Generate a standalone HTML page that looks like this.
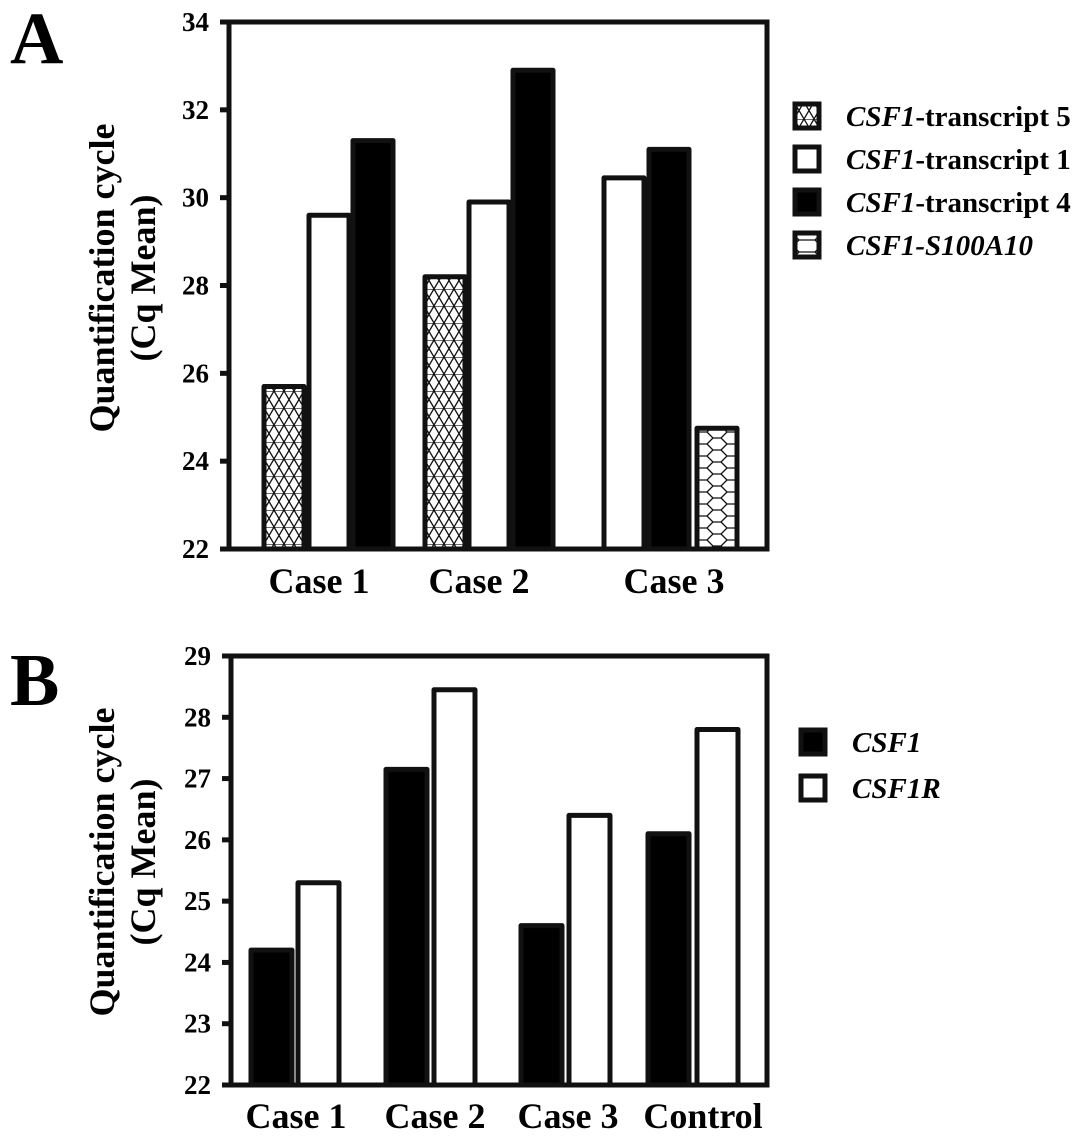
<!DOCTYPE html>
<html><head><meta charset="utf-8"><style>
body{margin:0;background:#fff;}
svg{display:block;font-family:"Liberation Serif",serif;font-weight:bold;}
</style></head><body>
<svg id="chart" width="1087" height="1141" viewBox="0 0 1087 1141" xmlns="http://www.w3.org/2000/svg">
<defs>
<pattern id="tri" patternUnits="userSpaceOnUse" width="20" height="17" x="264" y="0">
<rect width="20" height="17" fill="#fff"/>
<path d="M0 0H20M0 17L10 0L20 17M0 0L10 17L20 0" stroke="#111" stroke-width="1.3" fill="none"/>
</pattern>
<pattern id="hex" patternUnits="userSpaceOnUse" width="36" height="12" x="699" y="0">
<rect width="36" height="12" fill="#fff"/>
<path d="M0 0H8L14 6L8 12H0M14 6H22L28 0H36M22 6L28 12H36" stroke="#111" stroke-width="1.3" fill="none"/>
</pattern>
</defs>
<g id="panelA"></g>
<g id="panelB"></g>
<text x="10" y="63" font-size="74">A</text>
<text x="10" y="705" font-size="74">B</text>
</svg>
<script>
const NS="http://www.w3.org/2000/svg";
// Panel A data
const catsA=["Case 1","Case 2","Case 3"];
const seriesA=["CSF1-transcript 5","CSF1-transcript 1","CSF1-transcript 4","CSF1-S100A10"];
const t5=[25.7,28.2,null];
const t1=[29.6,29.9,30.45];
const t4=[31.3,32.9,31.1];
const s100=[null,null,24.75];
const ticksA=[22,24,26,28,30,32,34];
// Panel B data
const catsB=["Case 1","Case 2","Case 3","Control"];
const csf1=[24.2,27.15,24.6,26.1];
const csf1r=[25.3,28.45,26.4,27.8];
const ticksB=[22,23,24,25,26,27,28,29];

function el(tag,attrs,parent,text){const e=document.createElementNS(NS,tag);for(const k in attrs)e.setAttribute(k,attrs[k]);if(text!==undefined)e.textContent=text;parent.appendChild(e);return e;}

function axes(g,x0,x1,yTop,yBot,vmin,vmax,ticks,name){
  const y=v=>yBot-(v-vmin)/(vmax-vmin)*(yBot-yTop);
  const fr=el('rect',{x:x0,y:yTop,width:x1-x0,height:yBot-yTop,fill:'none',stroke:'#111','stroke-width':5},g);
  
  
  ticks.forEach(t=>{
    const l=el('line',{x1:x0-9,x2:x0,y1:y(t),y2:y(t),stroke:'#111','stroke-width':5},g);
    
    
    const tx=el('text',{x:x0-20,y:y(t)+9,'font-size':27,'text-anchor':'end'},g,t);
    
    
  });
  return y;
}
function bar(g,x,w,v,y,yBot,fill,name){
  const r=el('rect',{x:x,y:y(v),width:w,height:yBot-y(v),fill:fill,stroke:'#111','stroke-width':5,'stroke-linejoin':'round'},g);
  
  
}
function ytitle(g,cx,cy,name){
  const t=el('text',{transform:`translate(${cx},${cy}) rotate(-90)`,'font-size':36,'text-anchor':'middle'},g);
  
  
  el('tspan',{x:0,dy:0},t,'Quantification cycle');
  el('tspan',{x:0,dy:41},t,'(Cq Mean)');
}
function legend(g,x,y,fill,label,italicAll,name){
  const r=el('rect',{x:x,y:y-12,width:24,height:24,fill:fill,stroke:'#111','stroke-width':5},g);
  
  
  const t=el('text',{x:x+51,y:y+10,'font-size':29},g);
  
  
  const parts=label.split('-');
  if(italicAll){el('tspan',{'font-style':'italic'},t,label);}
  else{el('tspan',{'font-style':'italic'},t,parts[0]);el('tspan',{},t,'-'+parts.slice(1).join('-'));}
}

// Panel A
const gA=document.getElementById('panelA');
const yA=axes(gA,229,767,22,549,22,34,ticksA,'panel-a');
const groupsA=[[264,309,353,null],[425,469,513,null],[null,604,649,697]];
const bwA=40;
const fillsA=['url(#tri)','#fff','#000','url(#hex)'];
const valsA=[t5,t1,t4,s100];
catsA.forEach((c,i)=>{
  valsA.forEach((arr,s)=>{
    if(arr[i]!=null) bar(gA,groupsA[i][s],bwA,arr[i],yA,549,fillsA[s],'bar-a-'+c.toLowerCase().replace(' ','')+'-s'+(s+1));
  });
});
const labXA=[319,479,674];
catsA.forEach((c,i)=>{const t=el('text',{x:labXA[i],y:593,'font-size':36,'text-anchor':'middle'},gA,c);

});
ytitle(gA,114,278,'panel-a-y-axis-title');
const legYA=[116,159,202,245];
seriesA.forEach((s,i)=>legend(gA,795,legYA[i],fillsA[i],s,i===3,'legend-a-entry-'+(i+1)));

// Panel B
const gB=document.getElementById('panelB');
const yB=axes(gB,231,767,656,1085,22,29,ticksB,'panel-b');
const xB1=[251,386,521,648], xB2=[298,434,569,697];
const bwB=41;
catsB.forEach((c,i)=>{
  bar(gB,xB1[i],bwB,csf1[i],yB,1085,'#000','bar-b-csf1-'+c.toLowerCase().replace(' ',''));
  bar(gB,xB2[i],bwB,csf1r[i],yB,1085,'#fff','bar-b-csf1r-'+c.toLowerCase().replace(' ',''));
});
const labXB=[296,435,568,703];
catsB.forEach((c,i)=>{const t=el('text',{x:labXB[i],y:1128,'font-size':36,'text-anchor':'middle'},gB,c);

});
ytitle(gB,114,862,'panel-b-y-axis-title');
legend(gB,801,742,'#000','CSF1',true,'legend-b-csf1');
legend(gB,801,788,'#fff','CSF1R',true,'legend-b-csf1r');
</script>
</body></html>
